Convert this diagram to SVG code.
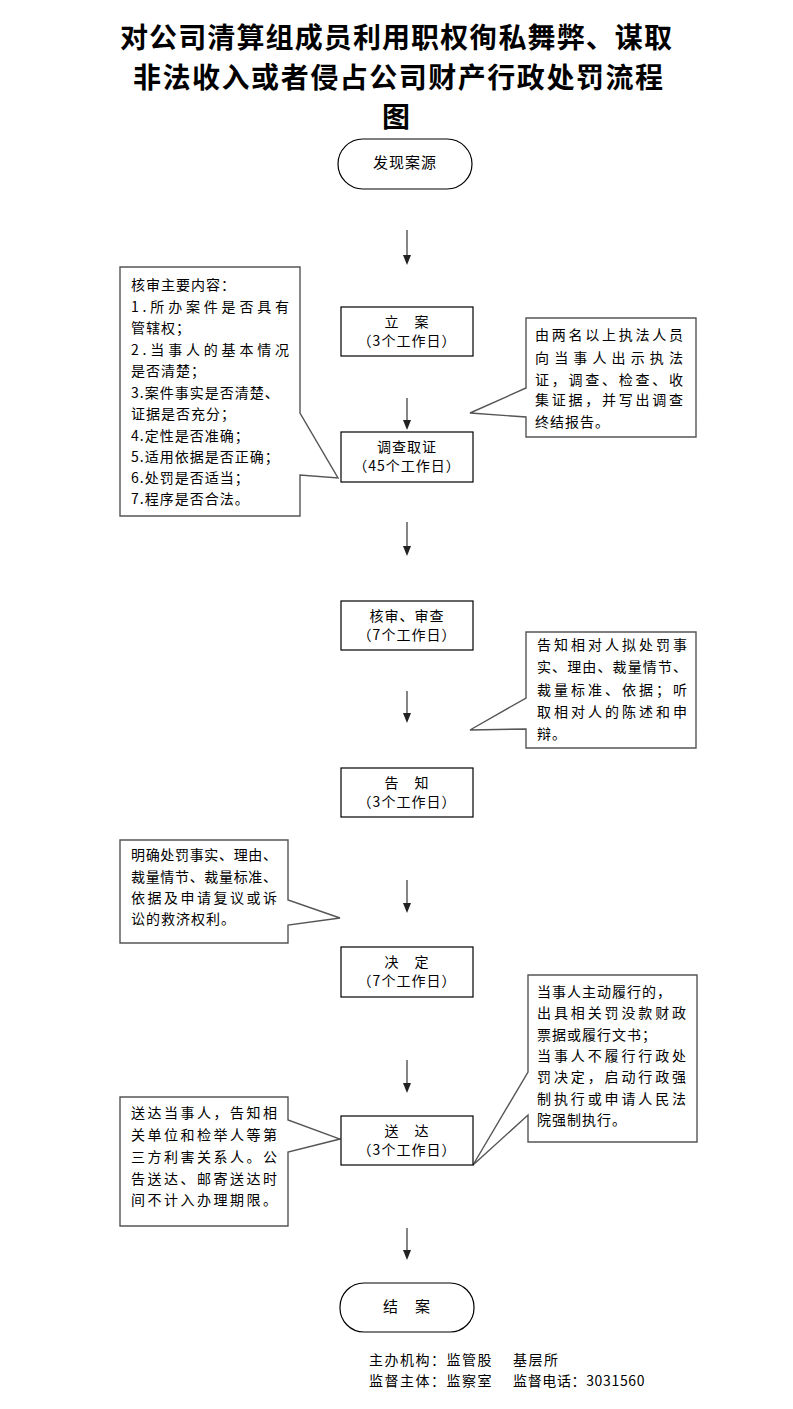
<svg xmlns="http://www.w3.org/2000/svg" width="793" height="1409" viewBox="0 0 793 1409">
<style>
.title{font-family:"Noto Sans CJK SC","Liberation Sans",sans-serif;font-size:28px;font-weight:bold;fill:#000;text-anchor:middle}
.bt{font-family:"Noto Sans CJK SC","Liberation Sans",sans-serif;font-size:14px;fill:#000;text-anchor:middle;letter-spacing:1px}
.ct{font-family:"Noto Sans CJK SC","Liberation Sans",sans-serif;font-size:14px;fill:#000;letter-spacing:1px}
.ft{font-family:"Noto Sans CJK SC","Liberation Sans",sans-serif;font-size:14px;fill:#000;letter-spacing:1.5px}
.box{fill:#fff;stroke:#000;stroke-width:1.2}
.call{fill:#fff;stroke:#555;stroke-width:1.4}
.arr{stroke:#444;stroke-width:1.3;fill:none}
.head{fill:#222}
</style>
<g id="title">
<text class="title" x="396" y="48" textLength="552" lengthAdjust="spacing">对公司清算组成员利用职权徇私舞弊、谋取</text>
<text class="title" x="398" y="88" textLength="530" lengthAdjust="spacing">非法收入或者侵占公司财产行政处罚流程</text>
<text class="title" x="396" y="127">图</text>
</g>
<g id="connectors">
<line class="arr" x1="407" y1="230" x2="407" y2="256"/><path class="head" d="M403,255 L411,255 L407,265 Z"/>
<line class="arr" x1="407" y1="398" x2="407" y2="421"/><path class="head" d="M403,420 L411,420 L407,430 Z"/>
<line class="arr" x1="407" y1="522" x2="407" y2="547"/><path class="head" d="M403,546 L411,546 L407,556 Z"/>
<line class="arr" x1="407" y1="691" x2="407" y2="714"/><path class="head" d="M403,713 L411,713 L407,723 Z"/>
<line class="arr" x1="407" y1="880" x2="407" y2="904"/><path class="head" d="M403,903 L411,903 L407,913 Z"/>
<line class="arr" x1="407" y1="1060" x2="407" y2="1084"/><path class="head" d="M403,1083 L411,1083 L407,1093 Z"/>
<line class="arr" x1="407" y1="1228" x2="407" y2="1251"/><path class="head" d="M403,1250 L411,1250 L407,1260 Z"/>
</g>
<g id="start">
<rect class="box" x="338" y="139" width="134" height="50" rx="25"/>
<text class="bt" x="405" y="168" style="font-size:15px">发现案源</text>
</g>
<g id="callout-review">
<path class="call" d="M120,267 H300 V413 L338,478 L300,475 V516 H120 Z"/>
<text class="ct" x="131" y="290">核审主要内容：</text>
<text class="ct" x="131" y="312" textLength="159" lengthAdjust="spacing">1.所办案件是否具有</text>
<text class="ct" x="131" y="333">管辖权；</text>
<text class="ct" x="131" y="355" textLength="159" lengthAdjust="spacing">2.当事人的基本情况</text>
<text class="ct" x="131" y="376">是否清楚；</text>
<text class="ct" x="131" y="398">3.案件事实是否清楚、</text>
<text class="ct" x="131" y="419">证据是否充分；</text>
<text class="ct" x="131" y="441">4.定性是否准确；</text>
<text class="ct" x="131" y="462">5.适用依据是否正确；</text>
<text class="ct" x="131" y="483">6.处罚是否适当；</text>
<text class="ct" x="131" y="504">7.程序是否合法。</text>
</g>
<g id="lian">
<rect class="box" x="341" y="307" width="132" height="49"/>
<text class="bt" x="407" y="327">立　案</text>
<text class="bt" x="407" y="346">（3个工作日）</text>
</g>
<g id="callout-investigate">
<path class="call" d="M526,318 H696 V437 H526 V417 L470,413 L526,388 Z"/>
<text class="ct" x="535" y="340" textLength="149" lengthAdjust="spacing">由两名以上执法人员</text>
<text class="ct" x="535" y="363" textLength="149" lengthAdjust="spacing">向当事人出示执法</text>
<text class="ct" x="535" y="385" textLength="149" lengthAdjust="spacing">证，调查、检查、收</text>
<text class="ct" x="535" y="405" textLength="149" lengthAdjust="spacing">集证据，并写出调查</text>
<text class="ct" x="535" y="427">终结报告。</text>
</g>
<g id="investigate">
<rect class="box" x="341" y="432" width="132" height="50"/>
<text class="bt" x="407" y="452">调查取证</text>
<text class="bt" x="407" y="471">（45个工作日）</text>
</g>
<g id="review">
<rect class="box" x="341" y="601" width="132" height="49"/>
<text class="bt" x="407" y="621">核审、审查</text>
<text class="bt" x="407" y="640">（7个工作日）</text>
</g>
<g id="callout-notify">
<path class="call" d="M526,632 H696 V748 H526 V729 L470,730 L526,698 Z"/>
<text class="ct" x="537" y="650" textLength="151" lengthAdjust="spacing">告知相对人拟处罚事</text>
<text class="ct" x="537" y="672" textLength="151" lengthAdjust="spacing">实、理由、裁量情节、</text>
<text class="ct" x="537" y="695" textLength="151" lengthAdjust="spacing">裁量标准、依据；听</text>
<text class="ct" x="537" y="717" textLength="151" lengthAdjust="spacing">取相对人的陈述和申</text>
<text class="ct" x="537" y="739">辩。</text>
</g>
<g id="notify">
<rect class="box" x="341" y="768" width="132" height="49"/>
<text class="bt" x="407" y="788">告　知</text>
<text class="bt" x="407" y="807">（3个工作日）</text>
</g>
<g id="callout-decide">
<path class="call" d="M120,840 H288 V900 L340,918 L288,925 V943 H120 Z"/>
<text class="ct" x="131" y="860" textLength="147" lengthAdjust="spacing">明确处罚事实、理由、</text>
<text class="ct" x="131" y="882" textLength="147" lengthAdjust="spacing">裁量情节、裁量标准、</text>
<text class="ct" x="131" y="903" textLength="147" lengthAdjust="spacing">依据及申请复议或诉</text>
<text class="ct" x="131" y="924">讼的救济权利。</text>
</g>
<g id="decide">
<rect class="box" x="341" y="947" width="132" height="50"/>
<text class="bt" x="407" y="967">决　定</text>
<text class="bt" x="407" y="986">（7个工作日）</text>
</g>
<g id="callout-execute">
<path class="call" d="M528,975 H697 V1142 H528 V1115 L473,1165 L528,1072 Z"/>
<text class="ct" x="537" y="997">当事人主动履行的，</text>
<text class="ct" x="537" y="1018" textLength="150" lengthAdjust="spacing">出具相关罚没款财政</text>
<text class="ct" x="537" y="1040">票据或履行文书；</text>
<text class="ct" x="537" y="1061" textLength="150" lengthAdjust="spacing">当事人不履行行政处</text>
<text class="ct" x="537" y="1082" textLength="150" lengthAdjust="spacing">罚决定，启动行政强</text>
<text class="ct" x="537" y="1104" textLength="150" lengthAdjust="spacing">制执行或申请人民法</text>
<text class="ct" x="537" y="1125">院强制执行。</text>
</g>
<g id="callout-deliver">
<path class="call" d="M120,1097 H288 V1120 L340,1139 L288,1152 V1226 H120 Z"/>
<text class="ct" x="131" y="1118" textLength="147" lengthAdjust="spacing">送达当事人，告知相</text>
<text class="ct" x="131" y="1140" textLength="147" lengthAdjust="spacing">关单位和检举人等第</text>
<text class="ct" x="131" y="1162" textLength="147" lengthAdjust="spacing">三方利害关系人。公</text>
<text class="ct" x="131" y="1184" textLength="147" lengthAdjust="spacing">告送达、邮寄送达时</text>
<text class="ct" x="131" y="1205" textLength="147" lengthAdjust="spacing">间不计入办理期限。</text>
</g>
<g id="deliver">
<rect class="box" x="341" y="1116" width="132" height="49"/>
<text class="bt" x="407" y="1136">送　达</text>
<text class="bt" x="407" y="1155">（3个工作日）</text>
</g>
<g id="end">
<rect class="box" x="340" y="1283" width="134" height="49" rx="24"/>
<text class="bt" x="407" y="1312" style="font-size:15px">结　案</text>
</g>
<g id="footer">
<text class="ft" x="369" y="1365">主办机构：监管股</text>
<text class="ft" x="513" y="1365">基层所</text>
<text class="ft" x="369" y="1386">监督主体：监察室</text>
<text class="ft" x="513" y="1386" textLength="133" lengthAdjust="spacing">监督电话：3031560</text>
</g>
</svg>
